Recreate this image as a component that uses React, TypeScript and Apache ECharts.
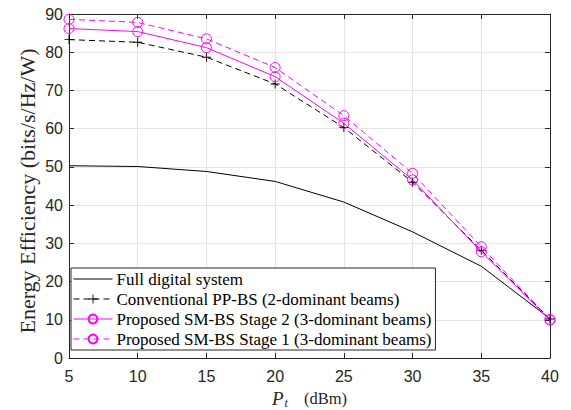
import React, { useEffect, useRef } from "react";
import * as echarts from "echarts";

const pt = [5, 10, 15, 20, 25, 30, 35, 40];
const fullDigital = [50.3, 50.1, 48.8, 46.2, 40.8, 33.0, 24.0, 10.3];
const conventional = [83.3, 82.6, 78.7, 71.7, 60.3, 46.0, 28.2, 10.2];
const stage2 = [86.2, 85.4, 81.2, 73.6, 61.4, 46.6, 27.8, 9.9];
const stage1 = [88.6, 87.8, 83.5, 76.0, 63.4, 48.3, 29.1, 10.1];
const seriesNames = [
  "Full digital system",
  "Conventional PP-BS (2-dominant beams)",
  "Proposed SM-BS Stage 2 (3-dominant beams)",
  "Proposed SM-BS Stage 1 (3-dominant beams)",
];
const yTitle = "Energy Efficiency (bits/s/Hz/W)";

const pair = (ys: number[]) => pt.map((x, i) => [x, ys[i]]);
const plusPath =
  "path://M4.5,0 L5.5,0 L5.5,4.5 L10,4.5 L10,5.5 L5.5,5.5 L5.5,10 L4.5,10 L4.5,5.5 L0,5.5 L0,4.5 L4.5,4.5 Z";

export default function App() {
  const ref = useRef<HTMLDivElement>(null);
  useEffect(() => {
    if (!ref.current) return;
    const chart = echarts.init(ref.current, undefined, { renderer: "svg" });
    const axisColor = "#262626";
    const labelFont = { fontFamily: "Liberation Sans", fontSize: 16, color: axisColor };
    const serif = "Liberation Serif";
    const mainAxisCommon = {
      axisLine: { show: true, onZero: false, lineStyle: { color: axisColor, width: 1 } },
      axisTick: { show: true, inside: true, length: 5, lineStyle: { color: axisColor } },
      splitLine: { show: true, lineStyle: { color: "#e5e5e5", width: 1 } },
    };
    const sideAxisCommon = {
      axisLine: { show: true, onZero: false, lineStyle: { color: axisColor, width: 1 } },
      axisTick: { show: true, inside: true, length: 5, lineStyle: { color: axisColor } },
      axisLabel: { show: false },
      splitLine: { show: false },
    };
    chart.setOption({
      animation: false,
      backgroundColor: "#fff",
      grid: { left: 69, right: 21, top: 14, bottom: 52, containLabel: false, outerBoundsMode: "none" },
      graphic: [
        {
          type: "text",
          x: 27,
          y: 191,
          rotation: Math.PI / 2,
          style: {
            text: yTitle,
            fontFamily: serif,
            fontSize: 22,
            fill: axisColor,
            align: "center",
            verticalAlign: "middle",
          },
        },
      ],
      xAxis: [
        {
          type: "value",
          min: 5,
          max: 40,
          interval: 5,
          ...mainAxisCommon,
          axisLabel: { ...labelFont, margin: 10 },
          name: "{p|P}{t|t}{u|(dBm)}",
          nameLocation: "middle",
          nameGap: 19,
          nameTextStyle: {
            rich: {
              p: { fontFamily: serif, fontStyle: "italic", fontSize: 19, color: axisColor },
              t: {
                fontFamily: serif,
                fontStyle: "italic",
                fontSize: 12,
                color: axisColor,
                verticalAlign: "bottom",
                padding: [9, 16, 0, 1],
              },
              u: { fontFamily: serif, fontSize: 16.5, color: axisColor },
            },
          },
        },
        { type: "value", position: "top", min: 5, max: 40, interval: 5, ...sideAxisCommon },
      ],
      yAxis: [
        {
          type: "value",
          min: 0,
          max: 90,
          interval: 10,
          ...mainAxisCommon,
          axisLabel: { ...labelFont, margin: 6 },
        },
        { type: "value", position: "right", min: 0, max: 90, interval: 10, ...sideAxisCommon },
      ],
      legend: {
        orient: "vertical",
        left: 71,
        top: 268,
        padding: [2.5, 4, 2.5, 2],
        itemGap: 3,
        itemWidth: 39,
        itemHeight: 11,
        borderColor: axisColor,
        borderWidth: 1,
        backgroundColor: "#fff",
        lineStyle: { width: 1 },
        textStyle: {
          fontFamily: serif,
          fontSize: 17,
          lineHeight: 17,
          color: "#000",
          padding: [0, 0, 0, -1],
        },
        data: [
          { name: seriesNames[0], itemStyle: { opacity: 0 } },
          seriesNames[1],
          seriesNames[2],
          seriesNames[3],
        ],
      },
      series: [
        {
          name: seriesNames[0],
          type: "line",
          data: pair(fullDigital),
          symbol: "none",
          color: "#000",
          lineStyle: { color: "#000", width: 1 },
        },
        {
          name: seriesNames[1],
          type: "line",
          data: pair(conventional),
          symbol: plusPath,
          symbolSize: 9,
          color: "#000",
          itemStyle: { color: "#000" },
          lineStyle: { color: "#000", width: 1, type: [6, 4] },
        },
        {
          name: seriesNames[2],
          type: "line",
          data: pair(stage2),
          symbol: "circle",
          symbolSize: 10,
          color: "#ff00ff",
          itemStyle: { color: "rgba(0,0,0,0)", borderColor: "#ff00ff", borderWidth: 1 },
          lineStyle: { color: "#ff00ff", width: 1 },
        },
        {
          name: seriesNames[3],
          type: "line",
          data: pair(stage1),
          symbol: "circle",
          symbolSize: 10,
          color: "#ff00ff",
          itemStyle: { color: "rgba(0,0,0,0)", borderColor: "#ff00ff", borderWidth: 1 },
          lineStyle: { color: "#ff00ff", width: 1, type: [6, 4] },
        },
      ],
    });
    return () => chart.dispose();
  }, []);
  return (
    <div
      ref={ref}
      style={{ position: "fixed", left: 0, top: 0, width: 571, height: 410 }}
    />
  );
}
